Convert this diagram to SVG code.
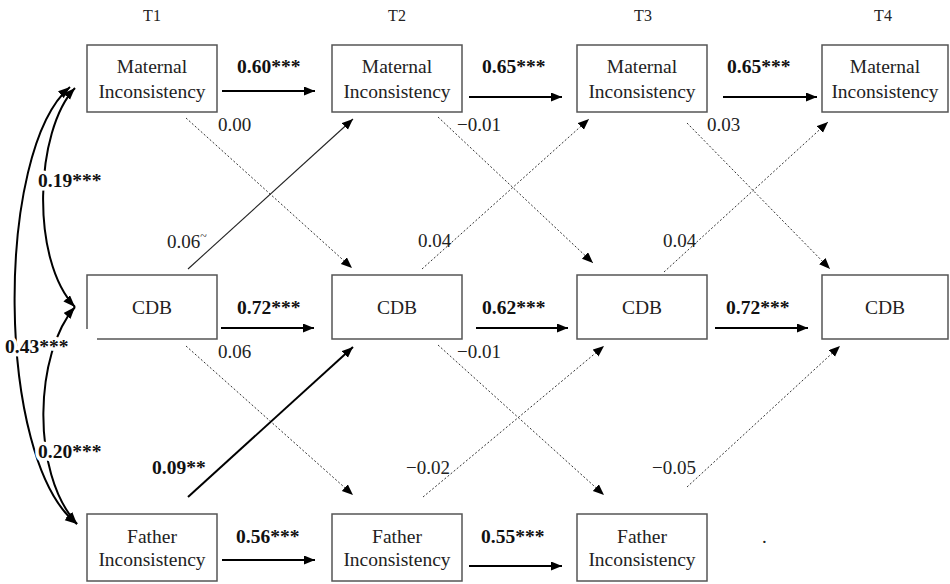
<svg xmlns="http://www.w3.org/2000/svg" width="950" height="584" viewBox="0 0 950 584">
<style>
.box{fill:#fff;stroke:#555;stroke-width:1.5}
.nt{font-family:"Liberation Serif","Times New Roman",serif;font-size:19.5px;fill:#222;text-anchor:middle}
.tl{font-family:"Liberation Serif","Times New Roman",serif;font-size:16px;fill:#222;text-anchor:middle}
.lb{font-family:"Liberation Serif","Times New Roman",serif;font-size:19.5px;font-weight:bold;fill:#111}
.lr{font-family:"Liberation Serif","Times New Roman",serif;font-size:19px;fill:#222}
.halo{stroke:#fff;stroke-width:7;paint-order:stroke;stroke-linejoin:round}
.thick{fill:none;stroke:#000;stroke-width:2;marker-end:url(#ah)}
.thin{fill:none;stroke:#222;stroke-width:1.1;marker-end:url(#ah)}
.dot{fill:none;stroke:#333;stroke-width:1;stroke-dasharray:2 2;marker-end:url(#ah)}
.cov{fill:none;stroke:#000;stroke-width:2;marker-start:url(#ah2);marker-end:url(#ah2)}
</style>
<defs>
<marker id="ah" markerUnits="userSpaceOnUse" markerWidth="12" markerHeight="10" refX="11" refY="4.5" orient="auto"><path d="M0,0 L11,4.5 L0,9 z" fill="#000"/></marker>
<marker id="ah2" markerUnits="userSpaceOnUse" markerWidth="13" markerHeight="10" refX="12" refY="4.5" orient="auto-start-reverse"><path d="M0,0 L12,4.5 L0,9 z" fill="#000"/></marker>
</defs>
<rect width="950" height="584" fill="#fff"/>
<g id="time-labels">
<text class="tl" x="152" y="21">T1</text>
<text class="tl" x="397" y="21">T2</text>
<text class="tl" x="643" y="21">T3</text>
<text class="tl" x="883" y="21">T4</text>
</g>
<g id="connectors">
<path class="cov" d="M70,87 C-5,150 -5,460 77,524"/>
<path class="cov" d="M75,88 C35,130 30,260 75,307"/>
<path class="cov" d="M75,307 C35,352 30,472 77,524"/>
<line class="thick" x1="222" y1="91" x2="315" y2="91"/>
<line class="thick" x1="469" y1="97" x2="562" y2="97"/>
<line class="thick" x1="723" y1="97" x2="817" y2="97"/>
<line class="thick" x1="221" y1="328" x2="314" y2="328"/>
<line class="thick" x1="476" y1="328" x2="568" y2="328"/>
<line class="thick" x1="715" y1="328" x2="808" y2="328"/>
<line class="thick" x1="222" y1="560" x2="315" y2="560"/>
<line class="thick" x1="469" y1="566" x2="562" y2="566"/>
<line class="dot" x1="186" y1="118" x2="352" y2="268"/>
<line class="thin" x1="188" y1="269" x2="353" y2="119"/>
<line class="dot" x1="438" y1="117" x2="593" y2="263"/>
<line class="dot" x1="422" y1="269" x2="589" y2="119"/>
<line class="dot" x1="687" y1="123" x2="830" y2="269"/>
<line class="dot" x1="664" y1="272" x2="828" y2="122"/>
<line class="dot" x1="186" y1="346" x2="353" y2="495"/>
<line class="thick" x1="188" y1="497" x2="353" y2="347"/>
<line class="dot" x1="438" y1="345" x2="604" y2="495"/>
<line class="dot" x1="423" y1="497" x2="604" y2="346"/>
<line class="dot" x1="687" y1="487" x2="840" y2="346"/>
</g>
<g id="edge-labels">
<text class="lb halo" x="38" y="187">0.19***</text>
<text class="lb halo" x="5" y="353">0.43***</text>
<text class="lb halo" x="38" y="458">0.20***</text>
<text class="lb" x="237" y="73">0.60***</text>
<text class="lb" x="482" y="73">0.65***</text>
<text class="lb" x="727" y="73">0.65***</text>
<text class="lb" x="237" y="314">0.72***</text>
<text class="lb" x="482" y="314">0.62***</text>
<text class="lb" x="726" y="314">0.72***</text>
<text class="lb" x="236" y="543">0.56***</text>
<text class="lb" x="481" y="543">0.55***</text>
<text class="lb" x="152" y="474">0.09**</text>
<text class="lr" x="218" y="131">0.00</text>
<text class="lr" x="457" y="131">−0.01</text>
<text class="lr" x="707" y="131">0.03</text>
<text class="lr" x="167" y="248">0.06<tspan font-size="12" dy="-8">~</tspan></text>
<text class="lr" x="418" y="247">0.04</text>
<text class="lr" x="663" y="247">0.04</text>
<text class="lr" x="218" y="358">0.06</text>
<text class="lr" x="457" y="358">−0.01</text>
<text class="lr" x="406" y="474">−0.02</text>
<text class="lr" x="652" y="474">−0.05</text>
<text class="lr" x="762" y="543">.</text>
</g>
<g id="mat-t1"><rect class="box" x="87" y="45" width="130" height="67"/><text class="nt" x="152" y="73">Maternal</text><text class="nt" x="152" y="98">Inconsistency</text></g>
<g id="mat-t2"><rect class="box" x="332" y="45" width="130" height="67"/><text class="nt" x="397" y="73">Maternal</text><text class="nt" x="397" y="98">Inconsistency</text></g>
<g id="mat-t3"><rect class="box" x="577" y="45" width="130" height="67"/><text class="nt" x="642" y="73">Maternal</text><text class="nt" x="642" y="98">Inconsistency</text></g>
<g id="mat-t4"><rect class="box" x="822" y="45" width="126" height="67"/><text class="nt" x="885" y="73">Maternal</text><text class="nt" x="885" y="98">Inconsistency</text></g>
<g id="cdb-t1"><path d="M87,329 L87,275 L217,275 L217,339 L97,339" fill="#fff" stroke="#555" stroke-width="1.5"/><text class="nt" x="152" y="314">CDB</text></g>
<g id="cdb-t2"><rect class="box" x="332" y="275" width="130" height="64"/><text class="nt" x="397" y="314">CDB</text></g>
<g id="cdb-t3"><rect class="box" x="577" y="275" width="130" height="64"/><text class="nt" x="642" y="314">CDB</text></g>
<g id="cdb-t4"><rect class="box" x="822" y="275" width="126" height="64"/><text class="nt" x="885" y="314">CDB</text></g>
<g id="fat-t1"><rect class="box" x="87" y="514" width="130" height="67"/><text class="nt" x="152" y="543">Father</text><text class="nt" x="152" y="566">Inconsistency</text></g>
<g id="fat-t2"><rect class="box" x="332" y="514" width="130" height="67"/><text class="nt" x="397" y="543">Father</text><text class="nt" x="397" y="566">Inconsistency</text></g>
<g id="fat-t3"><rect class="box" x="577" y="514" width="130" height="67"/><text class="nt" x="642" y="543">Father</text><text class="nt" x="642" y="566">Inconsistency</text></g>
</svg>
